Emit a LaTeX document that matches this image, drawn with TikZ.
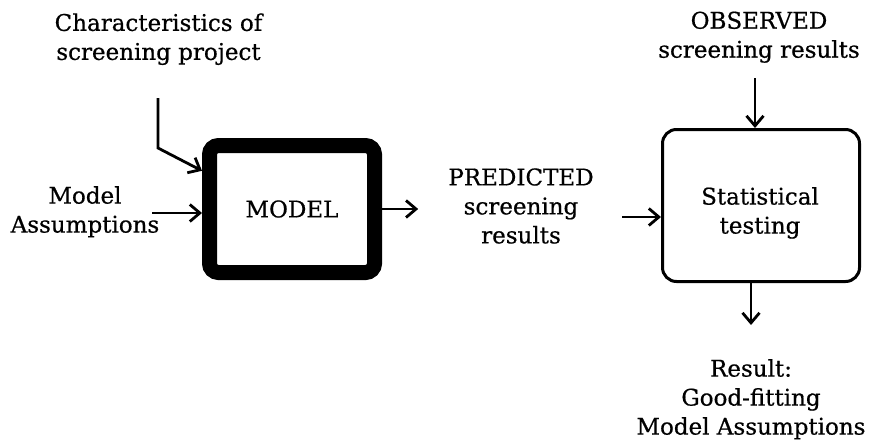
\documentclass[tikz,border=0pt]{standalone}
\usepackage{fontspec}
\setmainfont[FakeBold=0.6]{DejaVu Serif}
\usetikzlibrary{arrows.meta}
\begin{document}
\begin{tikzpicture}[x=1pt,y=-1pt,
  txt/.style={font=\fontsize{23}{29}\selectfont},
  lbl/.style={txt, align=center, inner sep=0pt,
    execute at begin node=\strut, execute at end node=\strut},
  arr/.style={line width=2.8pt, -{Straight Barb[length=10pt,width=17pt]}},
  modelbox/.style={txt, draw, line width=15pt, rounded corners=9pt,
    minimum width=165pt, minimum height=127pt, inner sep=0pt},
  testbox/.style={draw, line width=3pt, rounded corners=14pt,
    minimum width=197pt, minimum height=152pt, inner sep=0pt}]
\useasboundingbox (0,0) rectangle (874,442);

% boxes
\node[modelbox] (model) at (292,209) {MODEL};
\node[testbox] (stat) at (761,205.5) {};
\node[lbl] (stattext) at (760,214.7) {Statistical\\testing};

% labels
\node[lbl] (chars) at (158.5,41) {Characteristics of\\screening project};
\node[lbl] (assump) at (85,213.7) {Model\\Assumptions};
\node[lbl] (pred) at (521,210.2) {PREDICTED\\screening\\results};
\node[lbl] (obs) at (759,39) {OBSERVED\\screening results};
\node[lbl] (result) at (751,401.2) {Result:\\Good-fitting\\Model Assumptions};

% connector end points
\coordinate (charstop) at (158,98);
\coordinate (charsknee) at (158,148);
\coordinate (assumpstart) at (152,213);
\coordinate (predout) at (622,217);
\coordinate (obsstart) at (755,78);
\coordinate (resultend) at (751,325);

% connectors
\draw[arr] (charstop) -- (charsknee) -- (model.157);
\draw[arr] (assumpstart) -- (assumpstart -| model.west);
\draw[arr, shorten >=30pt] (model.east) -- (model.east -| pred.west);
\draw[arr] (predout) -- (predout -| stat.west);
\draw[arr] (obsstart) -- (obsstart |- stat.north);
\draw[arr] (resultend |- stat.south) -- (resultend);
\end{tikzpicture}
\end{document}
